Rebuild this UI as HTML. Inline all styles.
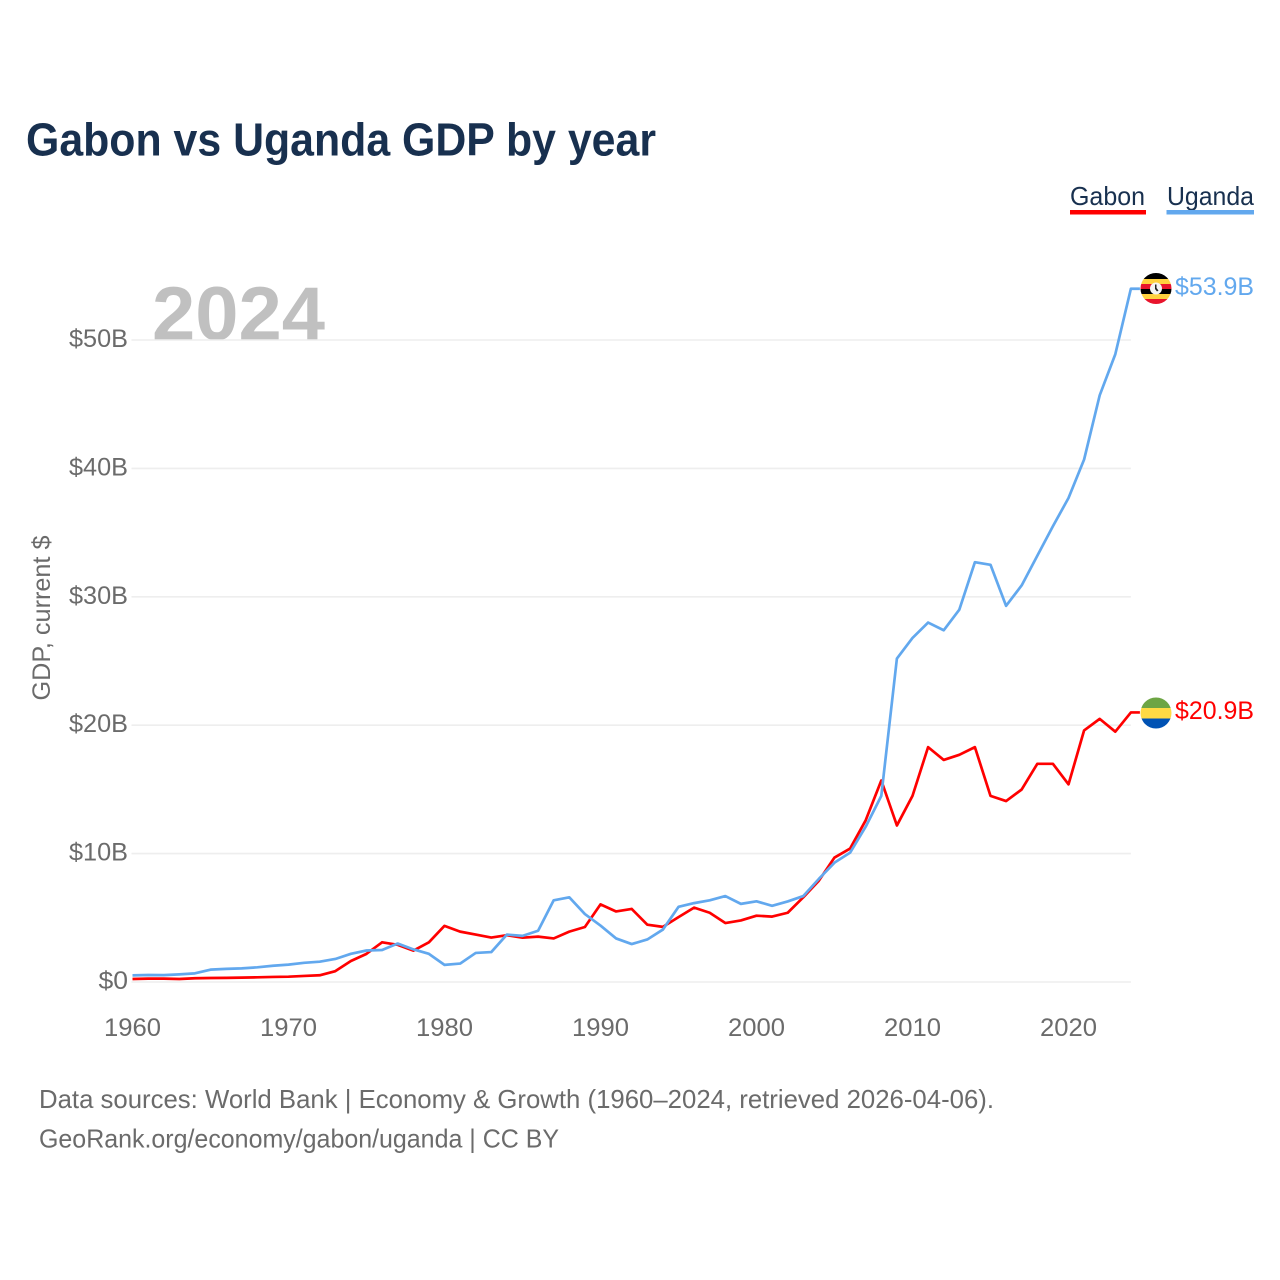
<!DOCTYPE html>
<html lang="en">
<head>
<meta charset="utf-8">
<title>Gabon vs Uganda GDP by year</title>
<style>
html,body{margin:0;padding:0;background:#fff;width:1280px;height:1280px;overflow:hidden}
svg{display:block}
text{font-family:"Liberation Sans",sans-serif}
</style>
</head>
<body>
<svg id="chart" xmlns="http://www.w3.org/2000/svg" width="1280" height="1280" viewBox="0 0 1280 1280">
  <rect width="1280" height="1280" fill="#fff"/>
  <text x="26" y="155.500" font-size="46" font-weight="700" fill="#18304f" textLength="630" lengthAdjust="spacingAndGlyphs">Gabon vs Uganda GDP by year</text>

  <g>
    <text x="1070" y="205" font-size="26" fill="#18304f" textLength="75" lengthAdjust="spacingAndGlyphs">Gabon</text>
    <rect x="1070" y="210" width="76" height="4.5" fill="#ff0000"/>
  </g>
  <g>
    <text x="1167" y="205" font-size="26" fill="#18304f" textLength="87" lengthAdjust="spacingAndGlyphs">Uganda</text>
    <rect x="1166.5" y="210" width="87.5" height="4.5" fill="#62a8ee"/>
  </g>

  <text x="152" y="340" font-size="76" font-weight="700" fill="#c0c0c0" textLength="173" lengthAdjust="spacingAndGlyphs">2024</text>

  <g id="grid"></g>
  <g id="y-axis"></g>
  <g id="x-axis"></g>

  <text transform="translate(50,618) rotate(-90)" text-anchor="middle" font-size="25" fill="#6b6b6b" textLength="165" lengthAdjust="spacingAndGlyphs">GDP, current $</text>

  <g id="series" transform="translate(0,-1.2)"></g>

  <defs>
    <clipPath id="uganda-clip"><circle cx="1156" cy="288.500" r="15.5"/></clipPath>
    <clipPath id="gabon-clip"><circle cx="1156" cy="713" r="15.5"/></clipPath>
  </defs>
  <g clip-path="url(#uganda-clip)">
    <rect x="1140" y="272" width="32" height="7" fill="#000"/>
    <rect x="1140" y="279" width="32" height="5" fill="#ffd13f"/>
    <rect x="1140" y="284" width="32" height="5" fill="#e8142c"/>
    <rect x="1140" y="289" width="32" height="5" fill="#000"/>
    <rect x="1140" y="294" width="32" height="5" fill="#ffd13f"/>
    <rect x="1140" y="299" width="32" height="6" fill="#e8142c"/>
    <circle cx="1156" cy="288.500" r="6" fill="#f4f4f4"/>
    <path d="M1155 284.500l1.500 0 0 3.500 2 2.500-1.500 1-2-2.500z" fill="#222"/>
  </g>
  <g clip-path="url(#gabon-clip)">
    <rect x="1140" y="697" width="32" height="11" fill="#6da544"/>
    <rect x="1140" y="708" width="32" height="10.500" fill="#ffda44"/>
    <rect x="1140" y="718.500" width="32" height="11" fill="#0052b4"/>
  </g>

  <text x="1175" y="295" font-size="25" fill="#62a8ee" textLength="79" lengthAdjust="spacingAndGlyphs">$53.9B</text>
  <text x="1175" y="719" font-size="25" fill="#ff0000" textLength="79" lengthAdjust="spacingAndGlyphs">$20.9B</text>

  <text x="39" y="1108" font-size="26" fill="#6b6b6b" textLength="955" lengthAdjust="spacingAndGlyphs">Data sources: World Bank | Economy &amp; Growth (1960–2024, retrieved 2026-04-06).</text>
  <a>
    <text x="39" y="1147.500" font-size="26" fill="#6b6b6b" textLength="520" lengthAdjust="spacingAndGlyphs">GeoRank.org/economy/gabon/uganda | CC BY</text>
  </a>
</svg>

<script>
const years = [1960,1961,1962,1963,1964,1965,1966,1967,1968,1969,1970,1971,1972,1973,1974,1975,1976,1977,1978,1979,1980,1981,1982,1983,1984,1985,1986,1987,1988,1989,1990,1991,1992,1993,1994,1995,1996,1997,1998,1999,2000,2001,2002,2003,2004,2005,2006,2007,2008,2009,2010,2011,2012,2013,2014,2015,2016,2017,2018,2019,2020,2021,2022,2023,2024];
const gabonValues = [0.14,0.17,0.17,0.14,0.2,0.22,0.23,0.25,0.27,0.3,0.32,0.38,0.43,0.75,1.54,2.1,3.0,2.8,2.35,3.0,4.28,3.83,3.6,3.37,3.55,3.36,3.44,3.3,3.83,4.19,5.95,5.4,5.6,4.37,4.2,4.96,5.7,5.3,4.5,4.7,5.07,5.0,5.3,6.5,7.8,9.6,10.3,12.5,15.6,12.1,14.4,18.2,17.2,17.6,18.2,14.4,14.0,14.9,16.9,16.9,15.3,19.5,20.4,19.4,20.9];
const ugandaValues = [0.42,0.45,0.44,0.5,0.58,0.87,0.93,0.97,1.05,1.17,1.26,1.4,1.49,1.7,2.1,2.36,2.4,2.9,2.45,2.1,1.24,1.34,2.17,2.24,3.6,3.5,3.9,6.27,6.5,5.2,4.3,3.3,2.86,3.22,3.99,5.76,6.05,6.27,6.6,5.99,6.19,5.84,6.18,6.6,7.94,9.2,9.98,12.0,14.4,25.1,26.7,27.9,27.3,28.9,32.6,32.4,29.2,30.8,33.1,35.4,37.6,40.6,45.6,48.8,53.9];
const xTickYears = [1960,1970,1980,1990,2000,2010,2020];
const yTickValues = [0,10,20,30,40,50];
const yTickLabels = ["$0","$10B","$20B","$30B","$40B","$50B"];

const SVG_NS = "http://www.w3.org/2000/svg";
const xScale = year => 132.5 + (year - 1960) * 15.6;
const yScale = value => 982 - value * 12.84;

const gridGroup = document.getElementById("grid");
const yAxisGroup = document.getElementById("y-axis");
const xAxisGroup = document.getElementById("x-axis");
const seriesGroup = document.getElementById("series");
const lastYear = years[years.length - 1];

yTickValues.forEach((value, i) => {
  const line = document.createElementNS(SVG_NS, "line");
  
  
  line.setAttribute("x1", xScale(1960) - 1);
  line.setAttribute("x2", xScale(lastYear));
  line.setAttribute("y1", yScale(value));
  line.setAttribute("y2", yScale(value));
  line.setAttribute("stroke", "#eeeeee");
  line.setAttribute("stroke-width", "1.6");
  gridGroup.appendChild(line);

  const label = document.createElementNS(SVG_NS, "text");
  
  
  label.setAttribute("x", 128);
  label.setAttribute("y", yScale(value) + 7);
  label.setAttribute("text-anchor", "end");
  label.setAttribute("font-size", "25");
  label.setAttribute("fill", "#6b6b6b");
  label.setAttribute("textLength", yTickLabels[i].length * 14.75);
  label.setAttribute("lengthAdjust", "spacingAndGlyphs");
  label.textContent = yTickLabels[i];
  yAxisGroup.appendChild(label);
});

xTickYears.forEach(year => {
  const label = document.createElementNS(SVG_NS, "text");
  
  
  label.setAttribute("x", xScale(year));
  label.setAttribute("y", 1036);
  label.setAttribute("text-anchor", "middle");
  label.setAttribute("font-size", "25");
  label.setAttribute("fill", "#6b6b6b");
  label.setAttribute("textLength", "57");
  label.setAttribute("lengthAdjust", "spacingAndGlyphs");
  label.textContent = String(year);
  xAxisGroup.appendChild(label);
});

function seriesPoints(values) {
  const pts = values.map((v, i) => xScale(years[i]).toFixed(2) + "," + yScale(v).toFixed(2));
  pts.push((xScale(lastYear) + 9).toFixed(2) + "," + yScale(values[values.length - 1]).toFixed(2));
  return pts.join(" ");
}

const gabonLine = document.createElementNS(SVG_NS, "polyline");


gabonLine.setAttribute("points", seriesPoints(gabonValues));
gabonLine.setAttribute("fill", "none");
gabonLine.setAttribute("stroke", "#ff0000");
gabonLine.setAttribute("stroke-width", "2.7");
gabonLine.setAttribute("stroke-linejoin", "round");
seriesGroup.appendChild(gabonLine);

const ugandaLine = document.createElementNS(SVG_NS, "polyline");


ugandaLine.setAttribute("points", seriesPoints(ugandaValues));
ugandaLine.setAttribute("fill", "none");
ugandaLine.setAttribute("stroke", "#62a8ee");
ugandaLine.setAttribute("stroke-width", "2.7");
ugandaLine.setAttribute("stroke-linejoin", "round");
seriesGroup.appendChild(ugandaLine);
</script>
</body>
</html>
